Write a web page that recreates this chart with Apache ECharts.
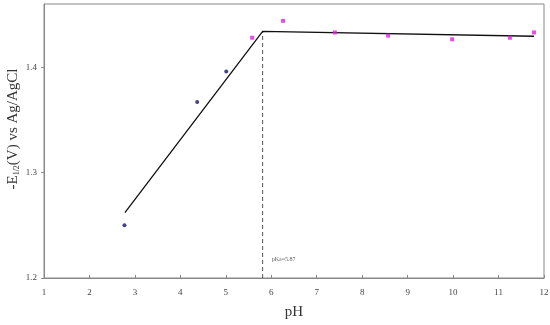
<!DOCTYPE html>
<html>
<head>
<meta charset="utf-8">
<script src="https://cdn.jsdelivr.net/npm/echarts@6/dist/echarts.min.js"></script>
<style>html,body{margin:0;padding:0;background:#fff}#c{width:550px;height:325px}</style>
</head>
<body>
<div id="c"></div>
<script>
// Data
var xTicks = [1,2,3,4,5,6,7,8,9,10,11,12];
var yTicks = [1.2,1.3,1.4];
var acidPH = [2.77, 4.37, 5.01];
var acidE  = [1.250, 1.367, 1.396];
var basePH = [5.58, 6.26, 7.40, 8.57, 9.98, 11.25, 11.78];
var baseE  = [1.428, 1.444, 1.433, 1.430, 1.4265, 1.428, 1.433];
var fitPH  = [2.78, 5.81, 11.78];
var fitE   = [1.262, 1.434, 1.4294];
var pKaX = 5.81;
var pKaLabel = 'pKa=5.87';

function pairs(a, b){ return a.map(function(v,i){ return [v, b[i]]; }); }

var chart = echarts.init(document.getElementById('c'), null, {renderer:'canvas'});
var serif = '"Liberation Serif","DejaVu Serif",serif';
chart.setOption({
  animation:false,
  backgroundColor:'#fff',
  grid:{left:44, right:6, top:4, bottom:47, show:true, borderColor:'#888', borderWidth:1,
    containLabel:false, outerBoundsMode:'none'},
  xAxis:{
    type:'value', min:1, max:12, interval:1,
    name:'pH', nameLocation:'middle', nameGap:27, nameMoveOverlap:false,
    nameTextStyle:{fontFamily:serif, fontSize:15, color:'#333'},
    axisLine:{show:true, onZero:false, lineStyle:{color:'#888'}},
    axisTick:{show:true, inside:true, length:3, lineStyle:{color:'#888'}},
    axisLabel:{fontFamily:serif, fontSize:9, color:'#444', margin:10},
    splitLine:{show:false}
  },
  yAxis:{
    type:'value', min:1.2, max:1.46,
    name:'-E{s|1/2}(V) vs Ag/AgCl', nameLocation:'middle', nameGap:23, nameMoveOverlap:false,
    nameTextStyle:{fontFamily:serif, fontSize:15, color:'#333', padding:[0,0,0,24],
      rich:{s:{fontFamily:serif, fontSize:8, color:'#333', verticalAlign:'bottom', padding:[5,0,0,0]}}},
    axisLine:{show:true, lineStyle:{color:'#888'}},
    axisTick:{show:true, inside:false, length:3, lineStyle:{color:'#888'}, customValues:yTicks},
    axisLabel:{fontFamily:serif, fontSize:9, color:'#444', margin:7, customValues:yTicks,
      formatter:function(v){ return v.toFixed(1); }},
    splitLine:{show:false}
  },
  series:[
    {type:'line', data:pairs(fitPH, fitE), symbol:'none', lineStyle:{color:'#111', width:1.3}, z:3},
    {type:'line', data:[[pKaX,1.2],[pKaX,fitE[1]]], symbol:'none',
      lineStyle:{color:'#555', width:1, type:[4,3]}, z:2},
    {type:'scatter', data:[[pKaX,1.2]], symbolSize:0,
      label:{show:true, formatter:pKaLabel, position:'right', offset:[4,-19],
        fontFamily:serif, fontSize:6, color:'#333'}},
    {type:'scatter', data:pairs(acidPH, acidE), symbol:'circle', symbolSize:4,
      itemStyle:{color:'#14146e'}, z:4},
    {type:'scatter', data:pairs(basePH, baseE), symbol:'rect', symbolSize:4,
      itemStyle:{color:'#e020e0'}, z:4}
  ]
});
</script>
</body>
</html>
